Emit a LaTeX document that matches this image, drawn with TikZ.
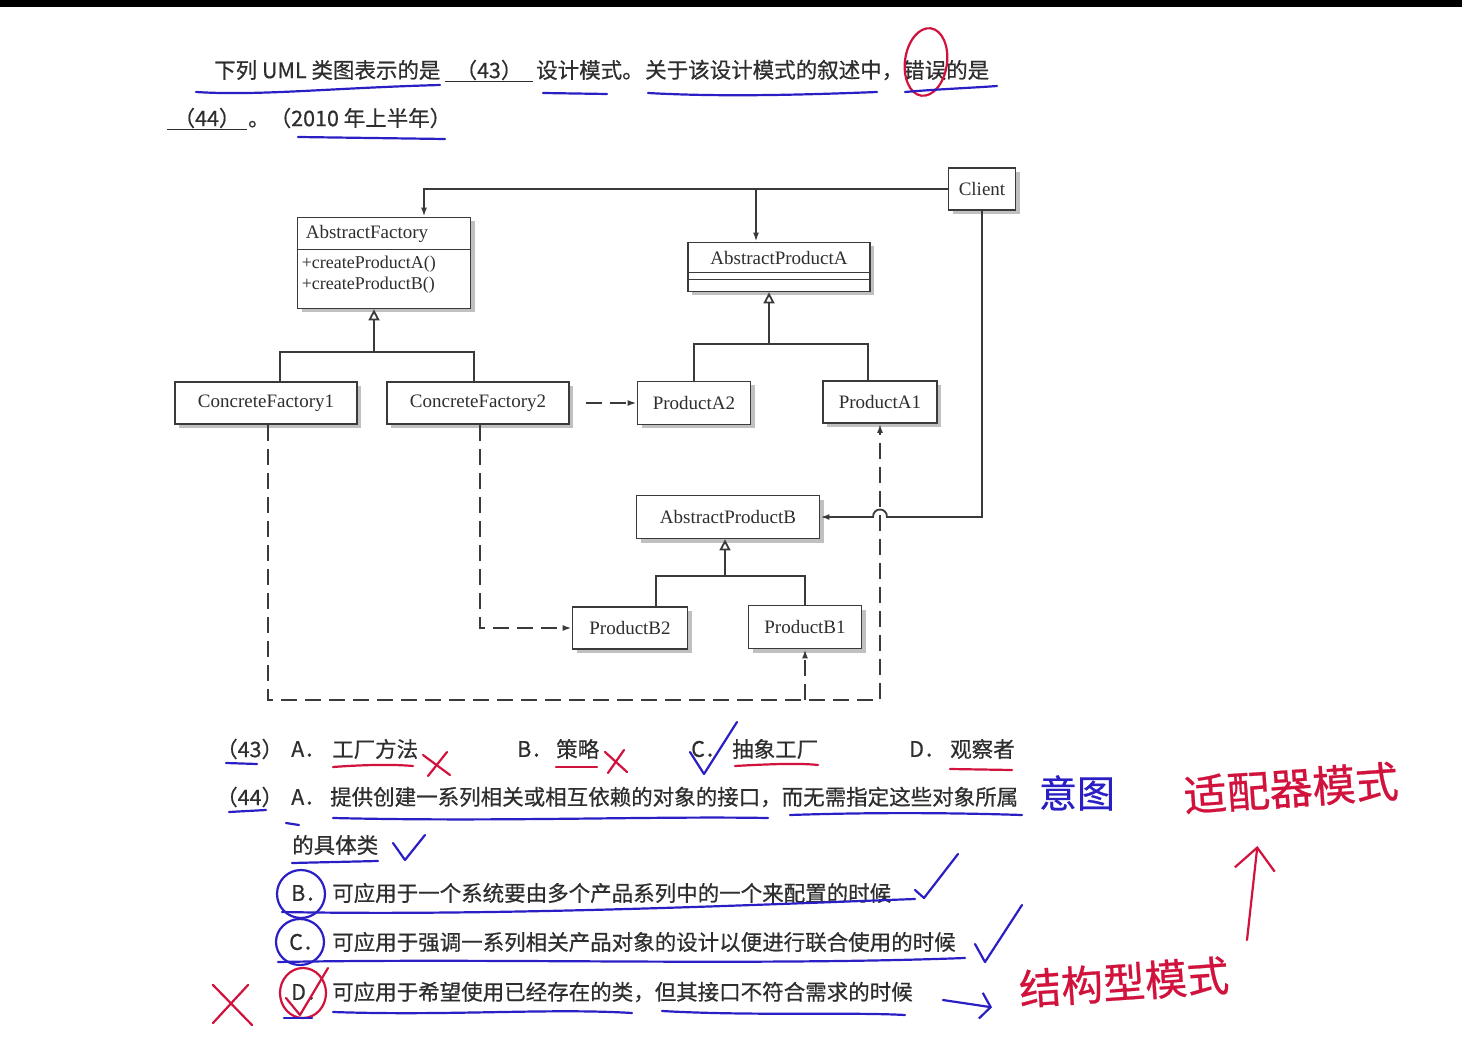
\documentclass[tikz,border=0pt]{standalone}
\usepackage{fontspec}
\setmainfont{Liberation Serif}
\newfontfamily\cjk[FakeBold=0.6]{Noto Sans CJK SC}
\usetikzlibrary{arrows.meta,positioning,calc,shadows}
\definecolor{inkgray}{HTML}{2E2E2E}
\definecolor{boxgray}{HTML}{3A3A3A}
\definecolor{penblue}{HTML}{2A1FC4}
\definecolor{penred}{HTML}{D0123C}

\begin{document}
\begin{tikzpicture}[
    x=1pt, y=-1pt,
    txt/.style={anchor=west, inner sep=0pt, text=inkgray,
                font=\cjk\fontsize{21.5}{24}\selectfont},
    cls/.style={rectangle, draw=boxgray, line width=1.8pt, fill=white,
                inner sep=0pt, text=inkgray, font=\fontsize{19}{22}\selectfont,
                drop shadow={shadow xshift=4pt, shadow yshift=-4pt,
                             fill=black!45, opacity=.55}},
    clstext/.style={inner sep=0pt, text=inkgray, font=\fontsize{19}{22}\selectfont},
    conn/.style={draw=boxgray, line width=1.8pt},
    inh/.style={conn, -{Triangle[open, length=11pt, width=11pt]}},
    assoc/.style={conn, -{Latex[length=9pt, width=6pt]}},
    dep/.style={conn, dash pattern=on 16pt off 8pt, -{Latex[length=9pt, width=6pt]}},
    fillin/.style={draw=inkgray, line width=1.8pt},
    bluepen/.style={draw=penblue, line width=2.2pt, line cap=round, line join=round},
    redpen/.style={draw=penred, line width=2.2pt, line cap=round, line join=round},
    hand/.style={font=\cjk\fontsize{#1}{#1}\selectfont, inner sep=0pt},
]
\useasboundingbox (0,0) rectangle (1462,1056);
\fill[black] (0,0) rectangle (1462,7);

% Question
\node[txt] (q1) at (214,70) {下列 UML 类图表示的是};
\node[txt, anchor=center, minimum width=88pt] (b43) at (489,70) {（43）};
\draw[fillin] ([yshift=-1pt]b43.south west) -- ([yshift=-1pt]b43.south east);
\node[txt] (q2) at (536,70) {设计模式。};
\node[txt] (q3) at (645,70) {关于该设计模式的叙述中，};
\node[txt] (q4) at (903,70) {错误的是};
\node[txt, anchor=center, minimum width=80pt] (b44) at (207,118) {（44）};
\draw[fillin] ([yshift=-1pt]b44.south west) -- ([yshift=-1pt]b44.south east);
\node[txt] (q5) at (248,118) {。（2010 年上半年）};

% Classes
\node[cls, minimum width=67pt, minimum height=42pt] (client) at (982,189) {Client};
\node[cls, minimum width=173pt, minimum height=91pt] (AF) at (384,263) {};
\draw[conn] ([yshift=-33pt]AF.north west) -- ([yshift=-33pt]AF.north east);
\node[clstext, anchor=west] (AFname) at ([xshift=9pt,yshift=-17pt]AF.north west) {AbstractFactory};
\node[clstext, anchor=north west, align=left, font=\fontsize{18}{21}\selectfont]
    (AFops) at ([xshift=5pt,yshift=-39pt]AF.north west) {+createProductA()\\+createProductB()};
\node[cls, minimum width=182pt, minimum height=49pt] (APA) at (779,267) {};
\draw[conn] ([yshift=-31pt]APA.north west) -- ([yshift=-31pt]APA.north east);
\draw[conn] ([yshift=-38pt]APA.north west) -- ([yshift=-38pt]APA.north east);
\node[clstext] (APAname) at ([yshift=-16pt]APA.north) {AbstractProductA};
\node[cls, minimum width=182pt, minimum height=42pt] (CF1) at (266,403) {ConcreteFactory1};
\node[cls, minimum width=182pt, minimum height=42pt] (CF2) at (478,403) {ConcreteFactory2};
\node[cls, minimum width=113pt, minimum height=43pt] (PA2) at (694,403) {ProductA2};
\node[cls, minimum width=114pt, minimum height=42pt] (PA1) at (880,402) {ProductA1};
\node[cls, minimum width=183pt, minimum height=43pt] (APB) at (728,517) {AbstractProductB};
\node[cls, minimum width=115pt, minimum height=42pt] (PB2) at (630,628) {ProductB2};
\node[cls, minimum width=113pt, minimum height=43pt] (PB1) at (805,627) {ProductB1};

% Connectors
\coordinate (jF) at (424,189);
\coordinate (jA) at (756,189);
\draw[assoc] (client.west) -| (jF |- AF.north);
\draw[assoc] (jA) -- (jA |- APA.north);
\coordinate (hop) at (PA1.south |- APB.east);
\draw[assoc] (client.south) |- ([xshift=7pt]hop)
    .. controls ([xshift=7pt,yshift=10pt]hop) and ([xshift=-7pt,yshift=10pt]hop) ..
    ([xshift=-7pt]hop) -- (APB.east);

\coordinate (tF) at (374,352);
\draw[inh] (tF) -- (tF |- AF.south);
\draw[conn] ([xshift=14pt]CF1.north) |- (tF) -| ([xshift=-4pt]CF2.north);
\coordinate (tA) at (769,344);
\draw[inh] (tA) -- (tA |- APA.south);
\draw[conn] (PA2.north) |- (tA) -| ([xshift=-12pt]PA1.north);
\coordinate (tB) at (725,576);
\draw[inh] (tB) -- (tB |- APB.south);
\draw[conn] ([xshift=26pt]PB2.north) |- (tB) -| (PB1.north);

\draw[dep, shorten <=16pt] (CF2.east) -- (PA2.west);
\draw[dep] ([xshift=2pt]CF2.south) |- (PB2.west);
\draw[dep] ([xshift=2pt]CF1.south) |- (PA1.south |- 0,700) -- (PA1.south);
\draw[dep] (PB1.south |- 0,700) -- (PB1.south);

% Answers
\node[txt] (n43) at (216,749) {（43）};
\node[txt] (a43l) at (291,749) {A．};
\node[txt] (a43t) at (332,749) {工厂方法};
\node[txt] (b43l) at (517,749) {B．};
\node[txt] (b43t) at (556,749) {策略};
\node[txt] (c43l) at (691,749) {C．};
\node[txt] (c43t) at (732,749) {抽象工厂};
\node[txt] (d43l) at (909,749) {D．};
\node[txt] (d43t) at (950,749) {观察者};
\node[txt] (n44) at (216,797) {（44）};
\node[txt] (a44l) at (291,797) {A．};
\node[txt] (a44t) at (330,797) {提供创建一系列相关或相互依赖的对象的接口，而无需指定这些对象所属};
\node[txt] (a44u) at (292,845) {的具体类};
\node[txt] (b44l) at (291,893) {B．};
\node[txt] (b44t) at (332,893) {可应用于一个系统要由多个产品系列中的一个来配置的时候};
\node[txt] (c44l) at (289,942) {C．};
\node[txt] (c44t) at (332,942) {可应用于强调一系列相关产品对象的设计以便进行联合使用的时候};
\node[txt] (d44l) at (291,992) {D．};
\node[txt] (d44t) at (332,992) {可应用于希望使用已经存在的类，但其接口不符合需求的时候};

% Pen marks
\draw[redpen] (926,62) ellipse [x radius=21pt, y radius=34pt, rotate=-8];
\draw[bluepen] (196,92) .. controls (260,96) and (330,88) .. (440,85);
\draw[bluepen] (543,93) -- (607,94);
\draw[bluepen] (648,93) .. controls (720,97) and (800,95) .. (877,92);
\draw[bluepen] (905,92) .. controls (940,89) and (970,88) .. (997,86);
\draw[bluepen] (298,137) -- (445,139);

\draw[bluepen] (226,763) -- (257,764);
\draw[redpen] (333,767) .. controls (360,765) and (390,764) .. (413,766);
\draw[redpen] (556,767) -- (597,767);
\draw[redpen] (735,766) .. controls (770,764) and (800,763) .. (818,765);
\draw[redpen] (950,769) -- (1012,770);
\draw[redpen] (423,755) -- (450,775) (447,752) -- (428,776);
\draw[redpen] (605,752) -- (627,772) (624,750) -- (608,773);
\draw[bluepen] (690,752) -- (704,774) -- (737,722);

\draw[bluepen] (229,812) -- (266,810);
\draw[bluepen] (286,823) -- (299,825);
\draw[bluepen] (333,818) .. controls (500,822) and (650,816) .. (768,818);
\draw[bluepen] (790,815) .. controls (880,812) and (960,813) .. (1022,815);
\draw[bluepen] (292,863) -- (378,861);
\draw[bluepen] (393,843) -- (405,860) -- (425,835);
\node[hand=38, text=penblue] (yitu) at (1077,793) {意图};

\draw[bluepen] (301,894) ellipse [x radius=24pt, y radius=24pt];
\draw[bluepen] (282,912) .. controls (500,916) and (750,905) .. (915,899);
\draw[bluepen] (915,890) -- (924,898) -- (958,854);
\draw[bluepen] (300,942) ellipse [x radius=24pt, y radius=23pt];
\draw[bluepen] (278,962) .. controls (500,958) and (750,966) .. (965,958);
\draw[bluepen] (975,944) -- (985,962) -- (1022,905);
\draw[redpen] (303,993) ellipse [x radius=23pt, y radius=25pt];
\draw[redpen] (286,998) -- (300,1015) -- (328,968);
\draw[bluepen] (284,1018) -- (312,1018);
\draw[bluepen] (333,1012) .. controls (450,1016) and (550,1008) .. (632,1013);
\draw[bluepen] (662,1011) .. controls (750,1016) and (850,1012) .. (905,1015);
\draw[redpen] (213,985) -- (252,1025) (248,985) -- (213,1023);

\node[hand=42, text=penred, rotate=4] (jgx) at (1124,982) {结构型模式};
\node[hand=43, text=penred, rotate=4] (spq) at (1291,788) {适配器模式};
\draw[bluepen, -{Straight Barb[length=10pt, width=26pt]}]
    ([xshift=30pt,yshift=-8pt]d44t.east) -- ([xshift=-27pt,yshift=-18pt]jgx.west);
\coordinate (up0) at (1247,940);
\draw[redpen, -{Straight Barb[length=22pt, width=40pt]}]
    (up0) -- ([xshift=-35pt,yshift=-38pt]spq.south);
\end{tikzpicture}
\end{document}
